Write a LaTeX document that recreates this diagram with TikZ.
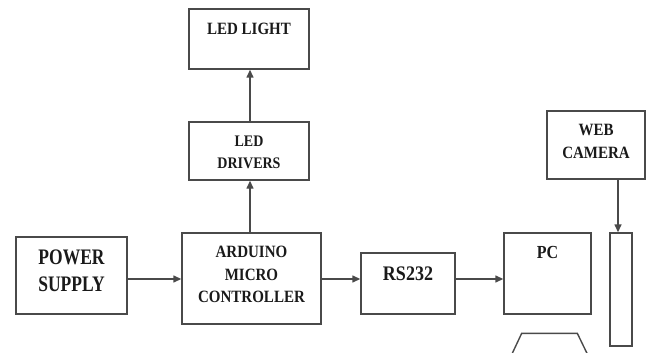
\documentclass[tikz,border=0pt]{standalone}
\usepackage{fontspec}
\setmainfont{Liberation Serif}
\usetikzlibrary{arrows.meta}
\definecolor{linec}{HTML}{4A4A4A}
\definecolor{textc}{HTML}{1A1A1A}
\tikzset{
  box/.style={draw=linec, line width=1.4pt, fill=white, inner sep=0pt},
  lbl/.style={text=textc, font=\bfseries, align=center, inner sep=0pt, yscale=1.15},
  arr/.style={draw=linec, line width=1.4pt, -{Triangle[length=8pt,width=7pt]}},
  ln/.style={draw=linec, line width=1.4pt},
}
\newcommand{\bx}[5]{\node[box, minimum width=#4-#2, minimum height=#5-#3] (#1) at ({(#2+#4)/2},{(#3+#5)/2}) {};}
\begin{document}
\begin{tikzpicture}[x=1pt,y=-1pt]
\useasboundingbox (0,0) rectangle (656,353);
\clip (0,0) rectangle (656,353);
\bx{led}{189}{9}{309}{69}
\bx{drv}{189}{122}{309}{180}
\bx{pow}{16}{237}{127}{314}
\bx{ard}{182}{233}{321}{324}
\bx{rs}{361}{253}{455}{314}
\bx{pc}{504}{233}{591}{314}
\bx{cam}{547}{111}{645}{179}
\bx{mon}{610}{233}{632}{346}
\node[lbl, font=\bfseries\fontsize{15}{17}\selectfont] (ledT) at (249,29) {LED LIGHT};
\node[lbl, font=\bfseries\fontsize{14}{19}\selectfont] (drvT) at (249,152.5) {LED\\DRIVERS};
\node[lbl, font=\bfseries\fontsize{17.5}{21.5}\selectfont, yscale=1.1] (powT) at (71.5,271) {POWER\\SUPPLY};
\node[lbl, font=\bfseries\fontsize{15}{19.5}\selectfont] (ardT) at (251.5,274.5) {ARDUINO\\MICRO\\CONTROLLER};
\node[lbl, font=\bfseries\fontsize{18}{20}\selectfont] (rsT) at (408,274) {RS232};
\node[lbl, font=\bfseries\fontsize{16}{18}\selectfont] (pcT) at (547.5,252) {PC};
\node[lbl, font=\bfseries\fontsize{15}{20}\selectfont] (camT) at (596,141.5) {WEB\\CAMERA};
\draw[arr] (drv.north -| 250,0) -- (led.south -| 250,0);
\draw[arr] (ard.north -| 250,0) -- (drv.south -| 250,0);
\draw[arr] (pow.east |- 0,279) -- (ard.west |- 0,279);
\draw[arr] (ard.east |- 0,279) -- (rs.west |- 0,279);
\draw[arr] (rs.east |- 0,279) -- (pc.west |- 0,279);
\coordinate (camx) at (618,0);
\draw[arr] (cam.south -| camx) -- (mon.north -| camx);
\coordinate (tl) at (521.7,333.3);
\coordinate (tr) at (577.3,333.3);
\coordinate (bl) at (508.2,362);
\coordinate (br) at (591.2,362);
\draw[ln] (bl) -- (tl) -- (tr) -- (br);
\end{tikzpicture}
\end{document}
